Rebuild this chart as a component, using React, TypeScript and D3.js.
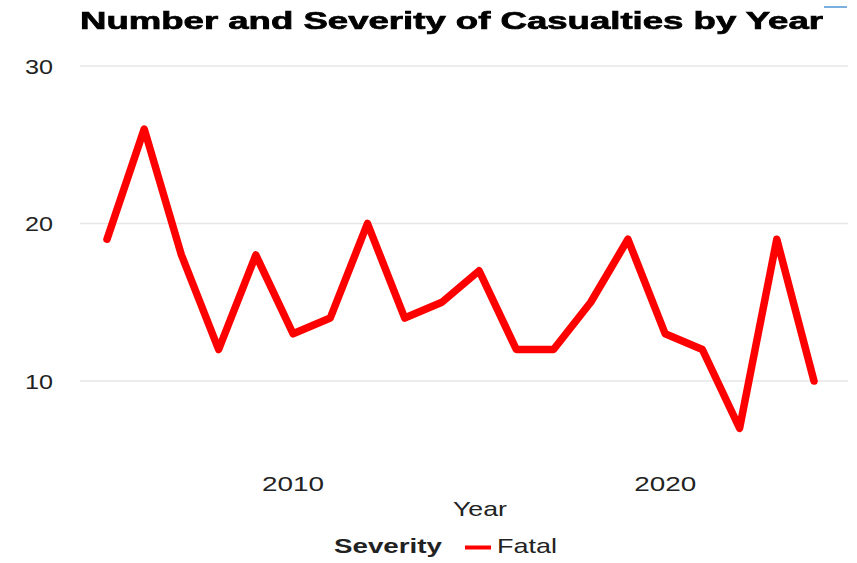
import React from "react";
import * as d3 from "d3";

const years = [2005, 2006, 2007, 2008, 2009, 2010, 2011, 2012, 2013, 2014, 2015, 2016, 2017, 2018, 2019, 2020, 2021, 2022, 2023, 2024];
const fatal = [19, 26, 18, 12, 18, 13, 14, 20, 14, 15, 17, 12, 12, 15, 19, 13, 12, 7, 19, 10];
const yTicks = [10, 20, 30];
const xTicks = [2010, 2020];

const W = 857;
const H = 563;
const FONT = "'Liberation Sans', Arial, sans-serif";

export default function App() {
  const x = d3.scaleLinear().domain([2005, 2024]).range([107, 814]);
  const y = d3.scaleLinear().domain([10, 30]).range([381, 66]);
  const line = d3
    .line<number>()
    .x((_, i) => x(years[i]))
    .y((d) => y(d));

  return (
    <svg
      width={W}
      height={H}
      style={{ position: "absolute", left: 0, top: 0, background: "#fff" }}
    >
      <defs>
        <filter id="soft" x="-5%" y="-20%" width="110%" height="140%">
          <feGaussianBlur stdDeviation="0.45" />
        </filter>
      </defs>
      <line x1={824} x2={847} y1={7} y2={7} stroke="#5b9bd5" strokeWidth={1.6} />
      <text
        x={80}
        y={29}
        textLength={743}
        lengthAdjust="spacingAndGlyphs"
        fontFamily={FONT}
        fontWeight="bold"
        fontSize={24}
        fill="#000"
        stroke="#000"
        strokeWidth={0.7}
        filter="url(#soft)"
      >
        Number and Severity of Casualties by Year
      </text>
      {yTicks.map((t) => (
        <g key={t}>
          <line x1={80} x2={848} y1={y(t)} y2={y(t)} stroke="#e6e6e6" strokeWidth={1.5} />
          <text
            x={25}
            y={y(t) + 7.5}
            textLength={28}
            lengthAdjust="spacingAndGlyphs"
            fontFamily={FONT}
            fontSize={20.5}
            fill="#222"
          >
            {t}
          </text>
        </g>
      ))}
      {xTicks.map((t) => (
        <text
          key={t}
          x={x(t) - 31}
          y={490.5}
          textLength={62}
          lengthAdjust="spacingAndGlyphs"
          fontFamily={FONT}
          fontSize={21}
          fill="#222"
        >
          {t}
        </text>
      ))}
      <path
        d={line(fatal) ?? ""}
        fill="none"
        stroke="#ff0000"
        strokeWidth={7.5}
        strokeLinejoin="round"
        strokeLinecap="round"
      />
      <text
        x={453}
        y={516}
        textLength={54}
        lengthAdjust="spacingAndGlyphs"
        fontFamily={FONT}
        fontSize={21}
        fill="#222"
      >
        Year
      </text>
      <text
        x={334}
        y={553}
        textLength={108}
        lengthAdjust="spacingAndGlyphs"
        fontFamily={FONT}
        fontWeight="bold"
        fontSize={21}
        fill="#222"
      >
        Severity
      </text>
      <line x1={465} x2={491} y1={547.5} y2={547.5} stroke="#ff0000" strokeWidth={4} />
      <text
        x={497}
        y={553}
        textLength={60}
        lengthAdjust="spacingAndGlyphs"
        fontFamily={FONT}
        fontSize={21}
        fill="#222"
      >
        Fatal
      </text>
    </svg>
  );
}
